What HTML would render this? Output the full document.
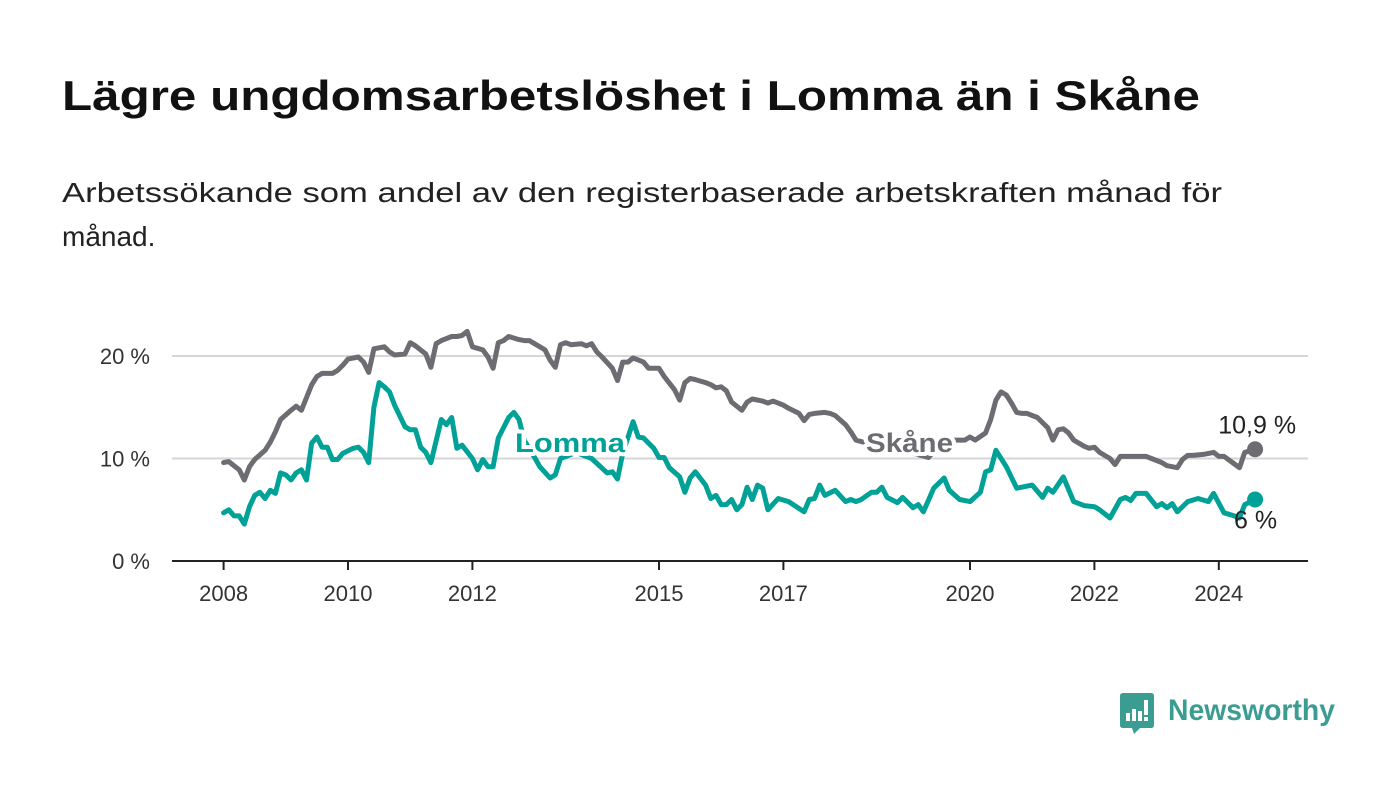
<!DOCTYPE html>
<html><head><meta charset="utf-8">
<style>
html,body{margin:0;padding:0;background:#fff;}
body{width:1400px;height:794px;overflow:hidden;font-family:"Liberation Sans",sans-serif;}
</style></head>
<body>
<svg id="chart" width="1400" height="794" viewBox="0 0 1400 794" xmlns="http://www.w3.org/2000/svg" font-family="Liberation Sans, sans-serif">
  <text x="62" y="110" font-size="42" font-weight="bold" fill="#111" textLength="1138" lengthAdjust="spacingAndGlyphs">Lägre ungdomsarbetslöshet i Lomma än i Skåne</text>
  <text x="62" y="202" font-size="28" fill="#222" textLength="1160" lengthAdjust="spacingAndGlyphs">Arbetssökande som andel av den registerbaserade arbetskraften månad för</text>
  <text x="62" y="246" font-size="28" fill="#222">månad.</text>
  <g id="grid"></g>
  <g id="yaxis"></g>
  <g id="xaxis"></g>
  <g id="series"></g>
  <g id="labels"></g>
  <g>
    <path d="M1123 693 H1151 Q1154 693 1154 696 V725 Q1154 728 1151 728 H1140 L1134 734 L1132 728 H1123 Q1120 728 1120 725 V696 Q1120 693 1123 693 Z" fill="#3b9c92"/>
    <rect x="1126" y="713" width="4" height="8" fill="#fff"/>
    <rect x="1132" y="709" width="4" height="12" fill="#fff"/>
    <rect x="1138" y="711" width="4" height="10" fill="#fff"/>
    <rect x="1144" y="700" width="4" height="15" fill="#fff"/>
    <rect x="1144" y="717" width="4" height="4" fill="#fff"/>
    <text x="1168" y="720" font-size="30" font-weight="bold" fill="#3b9c92" textLength="167" lengthAdjust="spacingAndGlyphs">Newsworthy</text>
  </g>
</svg>
<script>
// Months since Jan 2008, values in percent
const skaneMonths = [0,1,3,4,5,6,8,9,10,11,13,14,15,17,18,19,21,22,23,24,26,27,28,29,31,32,33,35,36,37,39,40,41,42,44,45,46,47,48,50,51,52,53,54,55,57,58,59,60,62,63,64,65,66,67,69,70,71,72,73,75,76,77,78,79,81,82,83,84,85,87,88,89,90,91,93,94,95,96,97,98,100,101,102,104,105,106,107,108,109,111,112,113,114,116,117,118,120,121,122,127,131,136,138,140,143,144,145,147,148,149,150,151,152,153,154,155,156,157,159,160,161,162,163,164,166,167,168,169,171,172,173,175,177,178,179,181,182,184,185,186,187,189,191,192,193,196,197,199];
const skaneValues = [9.6,9.7,8.9,7.9,9.2,9.9,10.8,11.6,12.6,13.8,14.7,15.1,14.7,17.2,18.0,18.3,18.3,18.6,19.1,19.7,19.9,19.4,18.4,20.7,20.9,20.4,20.1,20.2,21.3,21.0,20.2,18.9,21.2,21.5,21.9,21.9,22.0,22.4,20.9,20.6,19.9,18.8,21.3,21.5,21.9,21.6,21.5,21.5,21.2,20.6,19.6,18.9,21.1,21.3,21.1,21.2,21.0,21.2,20.4,19.9,18.8,17.6,19.4,19.4,19.8,19.4,18.8,18.8,18.8,18.0,16.7,15.7,17.4,17.8,17.7,17.4,17.2,16.9,17.0,16.6,15.5,14.7,15.5,15.8,15.6,15.4,15.6,15.4,15.2,14.9,14.4,13.7,14.3,14.4,14.5,14.4,14.2,13.3,12.6,11.8,11.1,10.8,10.1,11.3,11.8,11.8,12.1,11.8,12.5,13.8,15.7,16.5,16.2,15.4,14.5,14.4,14.4,14.2,14.0,13.0,11.8,12.8,12.9,12.5,11.8,11.2,11.0,11.1,10.6,10.0,9.4,10.2,10.2,10.2,10.2,10.0,9.6,9.3,9.1,9.9,10.3,10.3,10.4,10.6,10.2,10.2,9.1,10.6,10.9];
const lommaMonths = [0,1,2,3,4,5,6,7,8,9,10,11,12,13,14,15,16,17,18,19,20,21,22,23,25,26,27,28,29,30,31,32,33,35,36,37,38,39,40,42,43,44,45,46,48,49,50,51,52,53,55,56,57,58,60,61,63,64,65,68,71,74,75,76,77,79,80,81,83,84,85,86,88,89,90,91,93,94,95,96,97,98,99,100,101,102,103,104,105,107,109,112,113,114,115,116,118,120,121,122,123,125,126,127,128,130,131,133,134,135,137,139,140,142,144,146,147,148,149,151,153,156,158,159,160,162,164,166,168,169,171,173,174,175,176,178,180,181,182,183,184,186,188,190,191,193,195,196,197,199];
const lommaValues = [4.7,5.0,4.4,4.4,3.6,5.3,6.4,6.7,6.1,6.9,6.6,8.6,8.4,7.9,8.6,8.9,7.9,11.5,12.1,11.1,11.1,9.9,9.9,10.5,11.0,11.1,10.6,9.6,15.0,17.4,17.0,16.5,15.2,13.1,12.8,12.8,11.1,10.6,9.6,13.8,13.3,14.0,11.0,11.3,10.0,8.9,9.9,9.2,9.2,12.0,14.0,14.5,13.8,11.8,10.1,9.2,8.1,8.4,10.0,10.6,10.0,8.6,8.7,8.0,10.5,13.6,12.1,12.0,11.0,10.1,10.1,9.1,8.2,6.7,8.1,8.7,7.4,6.1,6.4,5.5,5.5,6.0,5.0,5.5,7.2,6.0,7.4,7.1,5.0,6.1,5.8,4.8,6.0,6.1,7.4,6.4,6.9,5.8,6.0,5.8,6.0,6.7,6.7,7.2,6.2,5.7,6.2,5.2,5.5,4.8,7.1,8.1,6.9,6.0,5.8,6.7,8.7,8.9,10.8,9.2,7.1,7.4,6.2,7.1,6.7,8.2,5.8,5.4,5.3,5.0,4.2,6.0,6.2,5.9,6.6,6.6,5.3,5.6,5.2,5.6,4.8,5.8,6.1,5.8,6.6,4.7,4.4,4.2,5.5,6.0];
const yTicks = [0,10,20];
const yTickLabels = ["0 %","10 %","20 %"];
const xTickYears = [2008,2010,2012,2015,2017,2020,2022,2024];
const endLabels = ["10,9 %","6 %"];

const NS = "http://www.w3.org/2000/svg";
const X0 = 223.6, PX_PER_MONTH = 62.2/12;
const Y0 = 561, PX_PER_UNIT = 10.25;
function xScale(m){ return X0 + m*PX_PER_MONTH; }
function xYear(y){ return xScale((y-2008)*12); }
function yScale(v){ return Y0 - v*PX_PER_UNIT; }
function mk(tag, attrs, parent){ const e=document.createElementNS(NS,tag); for(const k in attrs) e.setAttribute(k,attrs[k]); parent.appendChild(e); return e; }

const grid=document.getElementById('grid'), yaxis=document.getElementById('yaxis'), xaxis=document.getElementById('xaxis'), series=document.getElementById('series'), labels=document.getElementById('labels');

yTicks.forEach((t,i)=>{
  if(t!==0){
    const l=mk('line',{x1:172,x2:1308,y1:yScale(t),y2:yScale(t),stroke:'#d6d6d6','stroke-width':2},grid);
    
    
  }
  const tx=mk('text',{x:150,y:yScale(t)+8,'text-anchor':'end','font-size':22,fill:'#333'},yaxis);
  tx.textContent=yTickLabels[i];
  
  
});
const axisLine=mk('line',{x1:172,x2:1308,y1:Y0,y2:Y0,stroke:'#222','stroke-width':2},xaxis);


xTickYears.forEach(yr=>{
  const x=xYear(yr);
  const tk=mk('line',{x1:x,x2:x,y1:Y0,y2:Y0+9,stroke:'#222','stroke-width':2},xaxis);
  
  
  const tx=mk('text',{x:x,y:601,'text-anchor':'middle','font-size':22,fill:'#333'},xaxis);
  tx.textContent=String(yr);
  
  
});

function drawLine(months, vals, color, name){
  const d=months.map((m,i)=>(i?'L':'M')+xScale(m).toFixed(1)+' '+yScale(vals[i]).toFixed(1)).join(' ');
  const p=mk('path',{d:d,fill:'none',stroke:color,'stroke-width':5,'stroke-linejoin':'round','stroke-linecap':'round'},series);
  
  
  const n=months.length-1;
  const c=mk('circle',{cx:xScale(months[n]),cy:yScale(vals[n]),r:8,fill:color},series);
  
  
}
const GRAY='#6d6c72', TEAL='#00a196';
drawLine(skaneMonths, skaneValues, GRAY, 'skane');
drawLine(lommaMonths, lommaValues, TEAL, 'lomma');

function label(txt,x,y,color,name,opts){
  const t=mk('text',Object.assign({x:x,y:y,'font-size':27,fill:color,stroke:'#fff','stroke-width':8,'paint-order':'stroke','stroke-linejoin':'round'},opts||{}),labels);
  t.textContent=txt;
  
  
}
label('Lomma',515,452,TEAL,'lomma-series-label',{'font-weight':'bold',textLength:110,lengthAdjust:'spacingAndGlyphs'});
label('Skåne',866,452,GRAY,'skane-series-label',{'font-weight':'bold',textLength:87,lengthAdjust:'spacingAndGlyphs'});
const ls=skaneValues.length-1, ll=lommaValues.length-1;
label(endLabels[0],xScale(skaneMonths[ls])+41,yScale(skaneValues[ls])-16,'#222','skane-end-value',{'text-anchor':'end','font-size':25,'stroke-width':0});
label(endLabels[1],xScale(lommaMonths[ll])+22,yScale(lommaValues[ll])+29,'#222','lomma-end-value',{'text-anchor':'end','font-size':25,'stroke-width':0});
</script>
</body></html>
